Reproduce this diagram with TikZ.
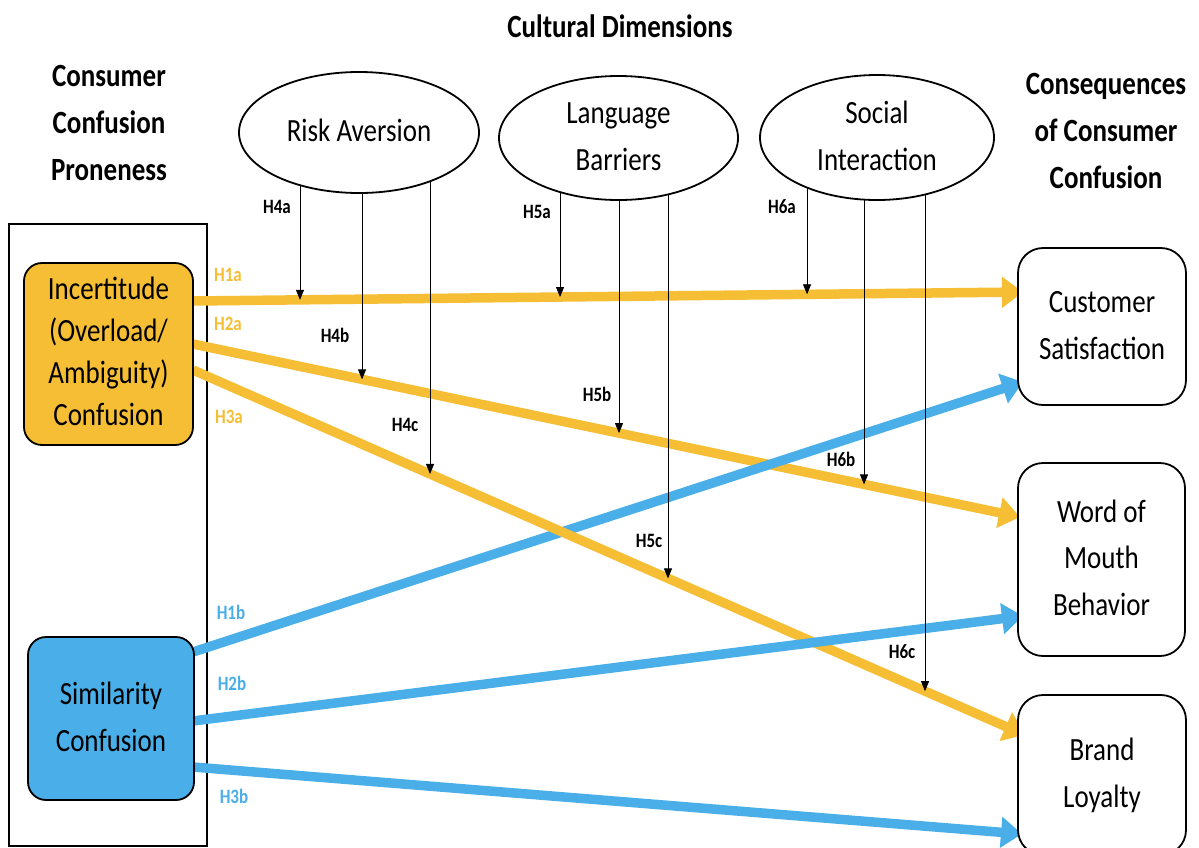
\documentclass[tikz,border=0pt]{standalone}
\usepackage{fontspec}
\usepackage{graphicx}
\setmainfont{Carlito}
\usetikzlibrary{shapes.geometric,arrows.meta,calc,backgrounds}

\definecolor{incOrange}{HTML}{F6BE34}
\definecolor{simBlue}{HTML}{4AAEE8}

% tall text: Calibri-like lettering stretched a little in height
\newcommand{\vs}[1]{\scalebox{1}[1.2]{#1}}
\newcommand{\vtext}[2][39pt]{\scalebox{1}[1.2]{\fontsize{27}{#1}\selectfont\begin{tabular}{@{}c@{}}#2\end{tabular}}}

\begin{document}
\begin{tikzpicture}[x=1pt,y=-1pt,
  box/.style={draw=black, line width=1.8pt, rounded corners=18pt, inner sep=0pt, outer sep=0pt},
  outcome/.style={box, rounded corners=25pt, fill=white},
  oval/.style={ellipse, draw=black, line width=1.8pt, fill=white, inner sep=0pt, outer sep=0pt},
  big/.style={-{Triangle[length=21pt,width=30pt]}, line width=9.5pt},
  mod/.style={-{Triangle[length=10pt,width=8pt]}, line width=0.8pt, draw=black},
  hyp/.style={font=\bfseries\fontsize{17}{20}\selectfont, inner sep=0pt},
  title/.style={font=\bfseries, inner sep=0pt}]
\useasboundingbox (0,0) rectangle (1199,847);

% headings
\node[title] (t-left)  at (109,124)  {\vtext{Consumer\\Confusion\\Proneness}};
\node[title] (t-mid)   at (620,28)   {\vtext{Cultural Dimensions}};
\node[title] (t-right) at (1106,132) {\vtext{Consequences\\of Consumer\\Confusion}};

% confusion proneness group (frame sits beneath the paths)
\begin{scope}[on background layer]
  \node[draw=black, line width=1.8pt, minimum width=198pt, minimum height=622pt, inner sep=0pt] (group) at (108,535) {};
\end{scope}
\node[box, fill=incOrange, minimum width=169pt, minimum height=182pt,
      label={center:{\vtext[35pt]{Incertitude\\(Overload/\\Ambiguity)\\Confusion}}}] (inc) at (108.5,354) {};
\node[box, fill=simBlue, minimum width=166pt, minimum height=163pt,
      label={center:{\vtext{Similarity\\Confusion}}}] (sim) at (111,718.5) {};

% consequences
\node[outcome, minimum width=168pt, minimum height=157pt,
      label={center:{\vtext{Customer\\Satisfaction}}}] (cs) at (1102,326.5) {};
\node[outcome, minimum width=167pt, minimum height=193pt,
      label={center:{\vtext{Word of\\Mouth\\Behavior}}}] (wom) at (1101.5,559.5) {};
\node[outcome, minimum width=168pt, minimum height=160pt,
      label={center:{\vtext{Brand\\Loyalty}}}] (bl) at (1102,775) {};

% cultural dimensions
\node[oval, minimum width=240pt, minimum height=121pt,
      label={center:{\vtext{Risk Aversion}}}] (ra) at (359,132.5) {};
\node[oval, minimum width=239pt, minimum height=124pt,
      label={center:{\vtext{Language\\Barriers}}}] (lb) at (618.5,138) {};
\node[oval, minimum width=234pt, minimum height=125pt,
      label={center:{\vtext{Social\\Interaction}}}] (si) at (877,137.5) {};

% end points of the main paths
\coordinate (h1a-s) at ($(inc.east)+(0,-53)$);
\coordinate (h1a-e) at ($(cs.west)+(5,-34.5)$);
\coordinate (h2a-s) at ($(inc.east)+(0,-10)$);
\coordinate (h2a-e) at ($(wom.west)+(2,-42.5)$);
\coordinate (h3a-s) at ($(inc.east)+(0,16)$);
\coordinate (h3a-e) at ($(bl.west)+(7,-40)$);
\coordinate (h1b-s) at ($(sim.east)+(-1,-66.5)$);
\coordinate (h1b-e) at ($(cs.west)+(5,55.5)$);
\coordinate (h2b-s) at ($(sim.east)+(-1,2.5)$);
\coordinate (h2b-e) at ($(wom.west)+(5,56.5)$);
\coordinate (h3b-s) at ($(sim.east)+(-1,48.5)$);
\coordinate (h3b-e) at ($(bl.west)+(4,59)$);

% where the moderating arrows meet the main paths
\coordinate (m4a) at ($(h1a-s)!0.1289!(h1a-e)$);
\coordinate (m5a) at ($(h1a-s)!0.4422!(h1a-e)$);
\coordinate (m6a) at ($(h1a-s)!0.7398!(h1a-e)$);
\coordinate (m4b) at ($(h2a-s)!0.2044!(h2a-e)$);
\coordinate (m5b) at ($(h2a-s)!0.5151!(h2a-e)$);
\coordinate (m6b) at ($(h2a-s)!0.8114!(h2a-e)$);
\coordinate (m4c) at ($(h3a-s)!0.2849!(h3a-e)$);
\coordinate (m5c) at ($(h3a-s)!0.5709!(h3a-e)$);
\coordinate (m6c) at ($(h3a-s)!0.8798!(h3a-e)$);

\begin{scope}[on background layer]
  % main effects
  \draw[big, incOrange] (h1a-s) -- (h1a-e);
  \draw[big, incOrange] (h2a-s) -- (h2a-e);
  \draw[big, simBlue]   (h1b-s) -- (h1b-e);
  \draw[big, incOrange] (h3a-s) -- (h3a-e);
  \draw[big, simBlue]   (h2b-s) -- (h2b-e);
  \draw[big, simBlue]   (h3b-s) -- (h3b-e);
  % moderating effects
  \draw[mod] (m4a |- ra.center) -- (m4a);
  \draw[mod] (m4b |- ra.center) -- (m4b);
  \draw[mod] (m4c |- ra.center) -- (m4c);
  \draw[mod] (m5a |- lb.center) -- (m5a);
  \draw[mod] (m5b |- lb.center) -- (m5b);
  \draw[mod] (m5c |- lb.center) -- (m5c);
  \draw[mod] (m6a |- si.center) -- (m6a);
  \draw[mod] (m6b |- si.center) -- (m6b);
  \draw[mod] (m6c |- si.center) -- (m6c);
\end{scope}

% hypothesis labels
\node[hyp, text=incOrange] (l1a) at (228,275) {\vs{H1a}};
\node[hyp, text=incOrange] (l2a) at (228,324) {\vs{H2a}};
\node[hyp, text=incOrange] (l3a) at (229,417) {\vs{H3a}};
\node[hyp, text=simBlue]   (l1b) at (231,612) {\vs{H1b}};
\node[hyp, text=simBlue]   (l2b) at (232,683) {\vs{H2b}};
\node[hyp, text=simBlue]   (l3b) at (234,796) {\vs{H3b}};
\node[hyp] (l4a) at (277,207) {\vs{H4a}};
\node[hyp] (l5a) at (537,212) {\vs{H5a}};
\node[hyp] (l6a) at (782,207) {\vs{H6a}};
\node[hyp] (l4b) at (335,335) {\vs{H4b}};
\node[hyp] (l5b) at (597,394) {\vs{H5b}};
\node[hyp] (l6b) at (841,459) {\vs{H6b}};
\node[hyp] (l4c) at (405,425) {\vs{H4c}};
\node[hyp] (l5c) at (649,541) {\vs{H5c}};
\node[hyp] (l6c) at (902,652) {\vs{H6c}};
\end{tikzpicture}
\end{document}
